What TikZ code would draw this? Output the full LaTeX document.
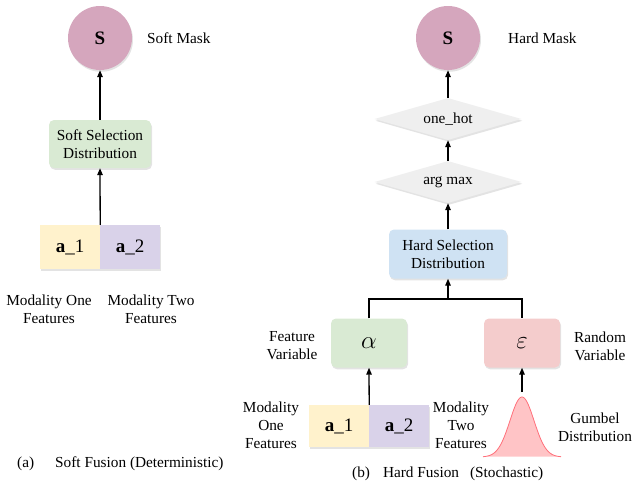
\documentclass[tikz,border=0pt]{standalone}
\usepackage{fontspec}
\setmainfont{Liberation Serif}
\usetikzlibrary{arrows.meta,shapes.geometric,shadows}
\definecolor{maskc}{HTML}{D5A6BD}
\definecolor{greenc}{HTML}{D9EAD3}
\definecolor{bluec}{HTML}{CFE2F3}
\definecolor{pinkc}{HTML}{F4CCCC}
\definecolor{yellowc}{HTML}{FFF2CC}
\definecolor{purplec}{HTML}{D9D2E9}
\definecolor{diac}{HTML}{EFEFEF}
\definecolor{gumf}{HTML}{FFC4C6}
\definecolor{guml}{HTML}{FF6F7A}
\begin{document}
\begin{tikzpicture}[x=1pt,y=-1pt,font=\fontsize{15.3}{18}\selectfont,
  shad/.style={drop shadow={shadow xshift=1pt,shadow yshift=-1.8pt,opacity=0.22}},
  arr/.style={-{Triangle[length=7pt,width=5.5pt]},line width=1.3pt},
  conn/.style={line width=1.3pt},
  box/.style={rectangle,rounded corners=5pt,align=center,inner sep=0pt,shad},
  circ/.style={circle,fill=maskc,minimum size=64pt,inner sep=0pt,shad,font=\fontsize{19}{20}\selectfont\bfseries},
  dia/.style={diamond,fill=diac,aspect=3.5,minimum width=147pt,minimum height=42pt,inner sep=0pt,shad},
  feat/.style={rectangle,minimum width=60pt,inner sep=0pt,shad,font=\fontsize{19}{20}\selectfont},
  lab/.style={align=center,inner sep=0pt},
  var/.style={box,minimum width=76pt,minimum height=49pt,font=\fontsize{27}{28}\selectfont}]
\useasboundingbox (0,0) rectangle (632,491);

% ---------- left panel ----------
\node[circ] (sL) at (100,38) {S};
\node[lab,anchor=west] (smL) at (147,38) {Soft Mask};
\node[box,fill=greenc,minimum width=102pt,minimum height=48pt] (soft) at (100,144) {Soft Selection\\Distribution};
\node[feat,fill=yellowc,minimum height=44pt] (a1L) at (70,247) {\textbf{a}\_1};
\node[feat,fill=purplec,minimum height=44pt] (a2L) at (130,247) {\textbf{a}\_2};
\node[lab] (m1L) at (49,309) {Modality One\\Features};
\node[lab] (m2L) at (151,309) {Modality Two\\Features};
\draw[arr] (a1L.north east) -- (soft.south);
\draw[arr] (soft.north) -- (sL.south);
\node[lab,anchor=west] (capa) at (17,464) {(a)};
\node[lab,anchor=west] (capa2) at (55,464) {Soft Fusion (Deterministic)};

% ---------- right panel ----------
\node[circ] (sR) at (448,38) {S};
\node[lab,anchor=west] (hmR) at (508,38) {Hard Mask};
\node[dia] (oh) at (448,119) {one\_hot};
\node[dia] (am) at (448,182) {arg max};
\node[box,fill=bluec,minimum width=118pt,minimum height=49pt] (hard) at (448,254) {Hard Selection\\Distribution};
\node[var,fill=greenc] (alpha) at (369,343) {$\alpha$};
\node[var,fill=pinkc] (eps) at (522,343) {$\varepsilon$};
\node[lab] (fv) at (292,346) {Feature\\Variable};
\node[lab] (rv) at (600,346) {Random\\Variable};
\node[feat,fill=yellowc,minimum height=42pt] (a1R) at (339,426) {\textbf{a}\_1};
\node[feat,fill=purplec,minimum height=42pt] (a2R) at (399,426) {\textbf{a}\_2};
\node[lab] (m1R) at (271,425) {Modality\\One\\Features};
\node[lab] (m2R) at (461,425) {Modality\\Two\\Features};
\node[lab] (gd) at (595,427) {Gumbel\\Distribution};

% Gumbel curve
\fill[gumf] plot[domain=-39:39,samples=80] ({522+\x},{457-60*exp(-(\x*\x)/289)}) -- cycle;
\draw[guml,line width=0.8pt] plot[domain=-39:39,samples=80] ({522+\x},{457-60*exp(-(\x*\x)/289)});
\coordinate (gpeak) at (522,392);

\coordinate (j) at (448,299);
\draw[conn] (alpha.north) |- (j) -| (eps.north);
\draw[arr] (j) -- (hard.south);
\draw[arr] (hard.north) -- (am.south);
\draw[arr] (am.north) -- (oh.south);
\draw[arr] (oh.north) -- (sR.south);
\draw[arr] (a1R.north east) -- (alpha.south);
\draw[arr] (gpeak) -- (eps.south);

\node[lab,anchor=west] (capb) at (352,474) {(b)\hspace{13pt}Hard Fusion\hspace{11pt}(Stochastic)};
\end{tikzpicture}
\end{document}
